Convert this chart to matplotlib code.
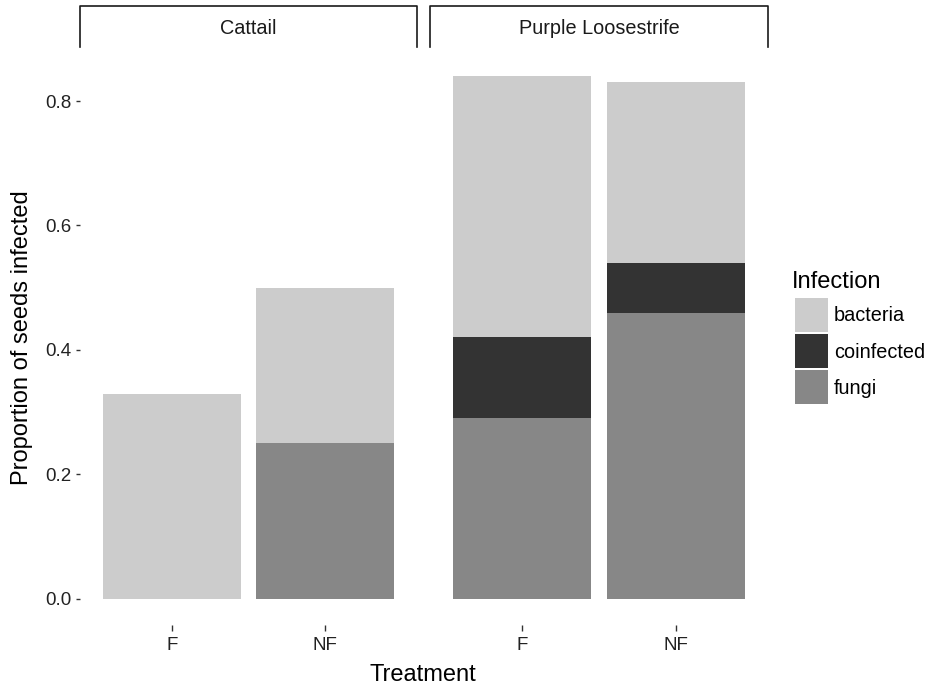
import numpy as np
import matplotlib.pyplot as plt
from matplotlib.patches import Rectangle
from matplotlib.lines import Line2D

plt.rcParams['font.family'] = ['Liberation Sans', 'DejaVu Sans']

# ---- data ----
plants = ['Cattail', 'Purple Loosestrife']
treatments = ['F', 'NF']
infections = ['fungi', 'coinfected', 'bacteria']   # stacking order, bottom to top
legend_order = ['bacteria', 'coinfected', 'fungi']
colors = {'bacteria': '#cccccc', 'coinfected': '#333333', 'fungi': '#878787'}

# proportion of seeds infected, per plant -> per treatment [F, NF]
fungi = {'Cattail': [0.00, 0.25], 'Purple Loosestrife': [0.29, 0.46]}
coinfected = {'Cattail': [0.00, 0.00], 'Purple Loosestrife': [0.13, 0.08]}
bacteria = {'Cattail': [0.33, 0.25], 'Purple Loosestrife': [0.42, 0.29]}
values = {'fungi': fungi, 'coinfected': coinfected, 'bacteria': bacteria}

TICK_FS = 13.5
STRIP_FS = 14.3
TITLE_FS = 17
LEG_FS = 14.3

W, H = 935, 688
fig = plt.figure(figsize=(W / 100, H / 100), dpi=100)

def fx(px):
    return px / W

def fy(py):
    return 1 - py / H

panel_x = [(80, 417), (430, 768)]
top_px, bot_px = 50, 625
ymax = 0.84 * 1.05
ymin = -0.84 * 0.05

axes = []
for i, plant in enumerate(plants):
    x0, x1 = panel_x[i]
    ax = fig.add_axes([fx(x0), fy(bot_px), fx(x1 - x0), (bot_px - top_px) / H])
    xpos = np.arange(len(treatments))
    bottom = np.zeros(len(treatments))
    for inf in infections:
        v = np.array(values[inf][plant])
        ax.bar(xpos, v, width=0.9, bottom=bottom, color=colors[inf],
               edgecolor='none', linewidth=0)
        bottom += v
    ax.set_xlim(-0.6, 1.6)
    ax.set_ylim(ymin, ymax)
    ax.set_xticks(xpos)
    ax.set_xticklabels(treatments)
    for s in ax.spines.values():
        s.set_visible(False)
    ax.tick_params(axis='x', length=4, width=1, color='#333333', pad=5,
                   labelsize=TICK_FS, labelcolor='#222222')
    if i == 0:
        ax.set_yticks([0.0, 0.2, 0.4, 0.6, 0.8])
        ax.set_yticklabels(['0.0', '0.2', '0.4', '0.6', '0.8'])
        ax.tick_params(axis='y', length=3, width=1, color='#333333', pad=3,
                       labelsize=TICK_FS, labelcolor='#222222')
    else:
        ax.set_yticks([])
    ax.patch.set_visible(False)
    axes.append(ax)

    # facet strip: top, left and right edges only
    sx0, sx1 = fx(x0), fx(x1)
    st, sb = fy(6), fy(47)
    fig.add_artist(Line2D([sx0, sx0, sx1, sx1], [sb, st, st, sb],
                          color='#1a1a1a', linewidth=1.2))
    fig.text((sx0 + sx1) / 2, fy(29), plant, ha='center', va='center',
             fontsize=STRIP_FS, color='#1a1a1a')

fig.text(fx(423), fy(675), 'Treatment', ha='center', va='center',
         fontsize=TITLE_FS)
fig.text(fx(22), fy(338), 'Proportion of seeds infected', ha='center',
         va='center', rotation=90, fontsize=TITLE_FS)

# legend
fig.text(fx(792), fy(282), 'Infection', ha='left', va='center',
         fontsize=TITLE_FS)
key_top = 298
for j, inf in enumerate(legend_order):
    y0 = key_top + j * 36
    fig.add_artist(Rectangle((fx(795), fy(y0 + 34)), fx(33), 34 / H,
                             facecolor=colors[inf], edgecolor='none',
                             transform=fig.transFigure))
    fig.text(fx(834), fy(y0 + 18), inf, ha='left', va='center',
             fontsize=LEG_FS)

fig.savefig('out.png', dpi=100)
